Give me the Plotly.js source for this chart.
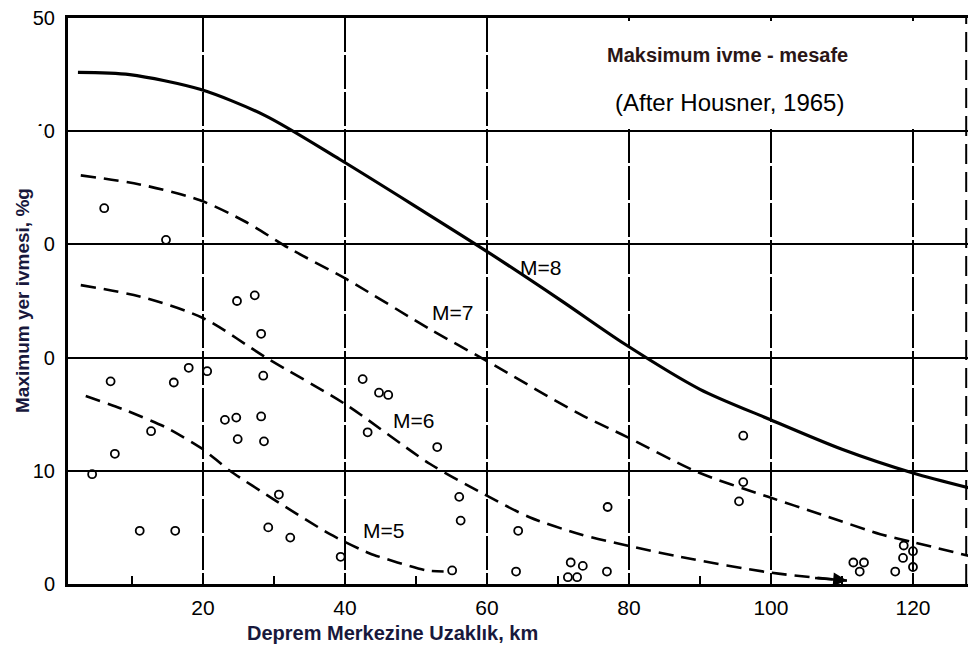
<!DOCTYPE html>
<html>
<head>
<meta charset="utf-8">
<script src="https://cdn.plot.ly/plotly-3.0.1.min.js"></script>
<style>html,body{margin:0;padding:0;background:#fff;}#chart{width:968px;height:660px;}</style>
</head>
<body>
<div id="chart"></div>
<script>
// Curves (Housner 1965): distance (km) vs max ground acceleration (%g)
const m8X = [2.4, 9.7, 19.6, 28.7, 39.3, 50.6, 59.7, 70.3, 79.4, 90.0, 99.6, 110.0, 120.0, 127.8];
const m8Y = [45.2, 45.0, 43.7, 41.4, 37.5, 33.1, 29.5, 25.1, 21.2, 17.2, 14.6, 11.9, 9.8, 8.5];

const m7X = [2.8, 11.1, 19.6, 26.0, 32.3, 40.3, 52.0, 59.7, 73.1, 79.7, 89.6, 99.6, 107.3, 115.4, 120.0, 127.8];
const m7Y = [36.1, 35.3, 33.9, 32.0, 29.6, 26.9, 22.5, 19.8, 15.0, 13.0, 9.9, 7.7, 6.1, 4.4, 3.7, 2.5];

const m6X = [2.8, 11.1, 20.0, 28.9, 40.0, 52.0, 59.7, 66.0, 73.1, 79.7, 87.2, 100.0, 110.7];
const m6Y = [26.4, 25.4, 23.5, 20.0, 15.9, 10.6, 7.9, 5.9, 4.4, 3.4, 2.4, 1.0, 0.3];

const m5X = [3.5, 9.3, 14.9, 20.0, 23.8, 29.9, 37.9, 43.5, 51.5, 53.9];
const m5Y = [16.6, 15.3, 13.8, 11.9, 10.0, 7.5, 4.4, 2.7, 1.2, 1.1];

// Observed records
const obsX = [6.1, 14.8, 7.0, 15.9, 18.0, 20.6, 7.6, 12.7, 4.4, 11.1, 16.1, 23.1, 24.7, 28.2, 24.9, 28.6, 30.7, 29.2, 32.3, 39.4,
              24.8, 27.3, 28.2, 28.5, 42.5, 44.8, 46.1, 43.2, 53.0, 56.1, 56.3, 55.1, 64.4, 64.1, 77.0, 71.8, 73.5, 71.4, 72.7, 76.9,
              96.1, 96.1, 95.5, 111.6, 113.1, 112.5, 117.5, 118.7, 120.0, 118.6, 120.0];
const obsY = [33.2, 30.4, 17.9, 17.8, 19.1, 18.8, 11.5, 13.5, 9.7, 4.7, 4.7, 14.5, 14.7, 14.8, 12.8, 12.6, 7.9, 5.0, 4.1, 2.4,
              25.0, 25.5, 22.1, 18.4, 18.1, 16.9, 16.7, 13.4, 12.1, 7.7, 5.6, 1.2, 4.7, 1.1, 6.8, 1.9, 1.6, 0.6, 0.6, 1.1,
              13.1, 9.0, 7.3, 1.9, 1.9, 1.1, 1.1, 3.4, 2.9, 2.3, 1.5];

const xTicks = [20, 40, 60, 80, 100, 120];
const yTicks = [0, 10, 20, 30, 40, 50];
const curveLabels = ["M=8", "M=7", "M=6", "M=5"];
const labelX = [67.5, 55.2, 49.7, 45.5];
const labelY = [28.0, 24.0, 14.4, 4.7];

const FONT = "Liberation Sans, Arial, sans-serif";
const dashStyle = "15px,8px";
const traces = [
  {x: m8X, y: m8Y, mode: "lines", line: {color: "#000", width: 3.2, shape: "spline", smoothing: 0.8}, hoverinfo: "skip"},
  {x: m7X, y: m7Y, mode: "lines", line: {color: "#000", width: 2.6, dash: dashStyle, shape: "spline", smoothing: 0.8}, hoverinfo: "skip"},
  {x: m6X, y: m6Y, mode: "lines", line: {color: "#000", width: 2.6, dash: dashStyle, shape: "spline", smoothing: 0.8}, hoverinfo: "skip"},
  {x: m5X, y: m5Y, mode: "lines", line: {color: "#000", width: 2.6, dash: dashStyle, shape: "spline", smoothing: 0.6}, hoverinfo: "skip"},
  {x: obsX, y: obsY, mode: "markers", marker: {symbol: "circle-open", size: 8, color: "#000", line: {width: 1.8, color: "#000"}}}
];

const annotations = curveLabels.map((t, i) => ({
  x: labelX[i], y: labelY[i], xref: "x", yref: "y", text: t, showarrow: false,
  font: {family: FONT, size: 21, color: "#000"}
}));
annotations.push(
  // arrowhead at the end of the M=6 curve
  {x: m6X[m6X.length - 1], y: m6Y[m6Y.length - 1], xref: "x", yref: "y", axref: "x", ayref: "y",
   ax: m6X[m6X.length - 2] + 6, ay: 0.55, text: "", showarrow: true, arrowhead: 2, arrowsize: 1.1, arrowwidth: 2.5, arrowcolor: "#000"},
  {x: 93.9, y: 46.7, xref: "x", yref: "y", text: "<b>Maksimum ivme - mesafe</b>", showarrow: false,
   font: {family: FONT, size: 20, color: "#2a1616"}},
  {x: 94.2, y: 42.5, xref: "x", yref: "y", text: "(After Housner, 1965)", showarrow: false,
   font: {family: FONT, size: 24, color: "#000"}},
  {x: (392 - 68) / 900, y: -0.087, xref: "paper", yref: "paper", text: "<b>Deprem Merkezine Uzaklık, km</b>", showarrow: false,
   yanchor: "middle", font: {family: FONT, size: 20, color: "#18183c"}},
  {x: (22 - 68) / 900, y: 0.5, xref: "paper", yref: "paper", text: "<b>Maximum yer ivmesi, %g</b>", showarrow: false, textangle: -90,
   xanchor: "center", yanchor: "middle", font: {family: FONT, size: 19, color: "#18183c"}}
);

const layout = {
  width: 968, height: 660,
  margin: {l: 68, r: 0, t: 18, b: 76},
  paper_bgcolor: "#fff", plot_bgcolor: "#fff",
  showlegend: false,
  xaxis: {
    range: [1.0, 127.75], tickvals: xTicks, ticktext: xTicks.map(String),
    showgrid: true, gridcolor: "#000", gridwidth: 2, griddash: "34px,3px",
    zeroline: false, showline: true, linecolor: "#000", linewidth: 3, mirror: true,
    ticks: "", ticklabelstandoff: 3,
    minor: {tickvals: [10, 30, 50, 70, 90, 110], ticks: "inside", ticklen: 8, tickwidth: 2, tickcolor: "#000", showgrid: false},
    tickfont: {family: FONT, size: 21, color: "#000"}
  },
  yaxis: {
    range: [0, 50], tickvals: yTicks, ticktext: yTicks.map(String),
    showgrid: true, gridcolor: "#000", gridwidth: 2,
    zeroline: false, showline: true, linecolor: "#000", linewidth: 3,
    ticks: "", ticklabelstandoff: 6,
    tickfont: {family: FONT, size: 20, color: "#000"}
  },
  shapes: [
    // dashed right border
    {type: "line", xref: "paper", yref: "paper", x0: 0.998, x1: 0.998, y0: 0, y1: 1, layer: "above",
     line: {color: "#000", width: 2, dash: "20px,8px"}},
    // white text box behind the title block (hides gridlines there)
    {type: "rect", xref: "paper", yref: "paper", x0: (590 - 68) / 900, x1: (960 - 68) / 900, y0: (584 - 127) / 566, y1: (584 - 21) / 566,
     layer: "above", fillcolor: "#fff", line: {width: 0}},
    // white text box behind the y-axis title (covers first digits of tick labels)
    {type: "rect", xref: "paper", yref: "paper", x0: -68 / 900, x1: -24.5 / 900, y0: (584 - 452) / 566, y1: (584 - 126) / 566,
     layer: "above", fillcolor: "#fff", line: {width: 0}}
  ],
  annotations: annotations
};

Plotly.newPlot("chart", traces, layout, {staticPlot: true, displayModeBar: false});
</script>
</body>
</html>
